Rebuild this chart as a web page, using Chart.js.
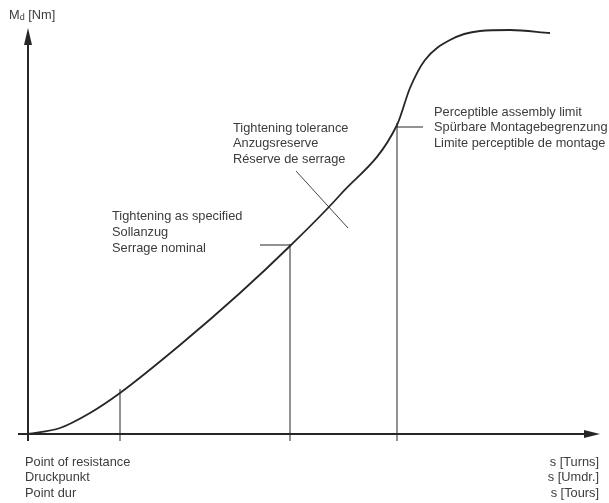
<!DOCTYPE html>
<html lang="en">
<head>
<meta charset="UTF-8">
<title>Tightening torque curve</title>
<script src="https://cdn.jsdelivr.net/npm/chart.js"></script>
<style>
  html, body { margin: 0; padding: 0; background: #fff; }
  #wrap { width: 609px; height: 503px; }
</style>
</head>
<body>
<div id="wrap"><canvas id="chart" width="609" height="503"></canvas></div>
<script>
// torque curve, s (turns) vs Md (Nm), arbitrary units
const curveS = [0, 3.2, 6.2, 9.2, 15.2, 21.2, 26.2, 31.2, 36.9, 38.2, 39.7, 42.2, 45.2, 48.2, 52.2];
const curveM = [0, 0.6, 2.1, 4.1, 8.9, 14.1, 18.8, 23.9, 30.9, 34.6, 37.4, 39.4, 40.3, 40.4, 40.1];

// marked points: point of resistance, tightening as specified, assembly limit
const markS = [9.2, 26.2, 36.9];
const markTop = [4.5, 19.0, 31.1];
const markBottom = -0.7;

// short horizontal ticks at the specified and limit points
const tickFrom = [23.2, 36.9];
const tickTo = [26.2, 39.5];
const tickM = [18.9, 30.7];

// tolerance stroke across the curve
const tolS = [26.8, 32.0];
const tolM = [26.3, 20.6];

const axisS = [-1.0, 57.2];
const axisM = [-0.7, 40.6];

const ink = '#262626';
const txt = '#3c3c3c';

const datasets = [{
  data: curveS.map((s, i) => ({ x: s, y: curveM[i] })),
  borderColor: ink, borderWidth: 1.8, cubicInterpolationMode: 'monotone', pointRadius: 0
}];
markS.forEach((s, i) => {
  datasets.push({
    data: [{ x: s, y: markBottom }, { x: s, y: markTop[i] }],
    borderColor: ink, borderWidth: 1, pointRadius: 0
  });
});
tickFrom.forEach((s, i) => {
  datasets.push({
    data: [{ x: s, y: tickM[i] }, { x: tickTo[i], y: tickM[i] }],
    borderColor: ink, borderWidth: 1, pointRadius: 0
  });
});
datasets.push({
  data: tolS.map((s, i) => ({ x: s, y: tolM[i] })),
  borderColor: '#444', borderWidth: 1, pointRadius: 0
});

const arrowsAndText = {
  id: 'arrowsAndText',
  afterDatasetsDraw(chart) {
    const { ctx, scales: { x, y } } = chart;
    const ox = x.getPixelForValue(0), oy = y.getPixelForValue(0);
    ctx.save();
    ctx.strokeStyle = ink;
    ctx.fillStyle = ink;
    ctx.lineWidth = 2;
    // x axis
    const xEnd = x.getPixelForValue(axisS[1]);
    ctx.beginPath();
    ctx.moveTo(x.getPixelForValue(axisS[0]), oy);
    ctx.lineTo(xEnd - 8, oy);
    ctx.stroke();
    ctx.beginPath();
    ctx.moveTo(xEnd, oy);
    ctx.lineTo(xEnd - 16, oy - 4);
    ctx.lineTo(xEnd - 16, oy + 4);
    ctx.closePath();
    ctx.fill();
    // y axis
    const yEnd = y.getPixelForValue(axisM[1]);
    ctx.beginPath();
    ctx.moveTo(ox, y.getPixelForValue(axisM[0]));
    ctx.lineTo(ox, yEnd + 8);
    ctx.stroke();
    ctx.beginPath();
    ctx.moveTo(ox, yEnd);
    ctx.lineTo(ox - 4, yEnd + 17);
    ctx.lineTo(ox + 4, yEnd + 17);
    ctx.closePath();
    ctx.fill();

    // labels
    ctx.fillStyle = txt;
    ctx.textBaseline = 'middle';
    const f = '12.8px "Liberation Sans", Arial, sans-serif';
    ctx.font = f;
    const block = (lines, px, py, step, align) => {
      ctx.textAlign = align || 'left';
      lines.forEach((l, i) => ctx.fillText(l, px, py + i * step));
    };
    // y axis title with subscript
    ctx.textAlign = 'left';
    ctx.fillText('M', 9, 15);
    let w = ctx.measureText('M').width;
    ctx.font = '9px "Liberation Sans", Arial, sans-serif';
    ctx.fillText('d', 9 + w, 18);
    const w2 = ctx.measureText('d').width;
    ctx.font = f;
    ctx.fillText(' [Nm]', 9 + w + w2, 15);

    block(['Point of resistance', 'Druckpunkt', 'Point dur'], 25, 462, 15.5);
    block(['s [Turns]', 's [Umdr.]', 's [Tours]'], 599, 462, 15.5, 'right');
    block(['Tightening as specified', 'Sollanzug', 'Serrage nominal'], 112, 216, 16);
    block(['Tightening tolerance', 'Anzugsreserve', 'R\u00e9serve de serrage'], 233, 128, 15.8);
    block(['Perceptible assembly limit', 'Sp\u00fcrbare Montagebegrenzung', 'Limite perceptible de montage'], 434, 112, 15.5);
    ctx.restore();
  }
};

new Chart(document.getElementById('chart'), {
  type: 'scatter',
  data: { datasets },
  options: {
    responsive: false,
    animation: false,
    showLine: true,
    layout: { padding: 0 },
    plugins: { legend: { display: false }, tooltip: { enabled: false } },
    scales: {
      x: { type: 'linear', display: false, min: -2.8, max: 58.1 },
      y: { type: 'linear', display: false, min: -6.9, max: 43.4 }
    }
  },
  plugins: [arrowsAndText]
});
</script>
</body>
</html>
